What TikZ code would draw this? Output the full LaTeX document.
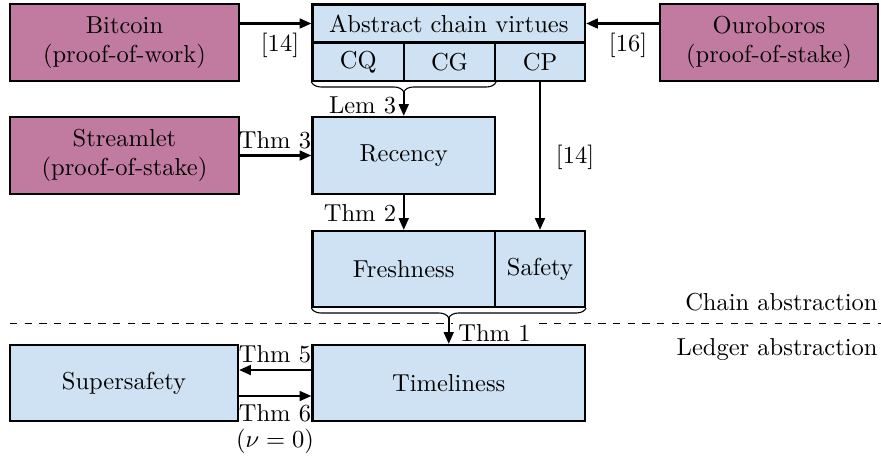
\documentclass[tikz,border=0pt]{standalone}
\usetikzlibrary{arrows.meta,decorations.pathreplacing}
\definecolor{virtueblue}{HTML}{CFE2F3}
\definecolor{protopink}{HTML}{C27BA0}
\tikzset{
  box/.style={draw, line width=0.9pt, fill=virtueblue, align=center, inner sep=0pt},
  proto/.style={box, fill=protopink, minimum width=93.4pt, minimum height=31.4pt},
  implies/.style={-{Triangle[length=4.8pt,width=4pt]}, line width=0.9pt},
  brc/.style={decorate, decoration={brace, mirror, amplitude=4pt}, line width=0.45pt},
}
\begin{document}
\begin{tikzpicture}[x=0.408pt, y=-0.408pt]
  \useasboundingbox (0,0) rectangle (881,458);
  % protocols
  \node[proto] (bitcoin) at (124.5,42.5) {Bitcoin\\(proof-of-work)};
  \node[proto, minimum width=88.9pt] (ouroboros) at (769,42.5) {Ouroboros\\(proof-of-stake)};
  \node[proto] (streamlet) at (124.5,155.5) {Streamlet\\(proof-of-stake)};
  % chain abstraction
  \node[box, minimum width=111.2pt, minimum height=15.5pt] (virtues) at (448.75,23.5) {Abstract chain virtues};
  \node[box, minimum width=37.3pt, minimum height=15.7pt] (cq) at (358.25,61.75) {CQ};
  \node[box, minimum width=37.1pt, minimum height=15.7pt] (cg) at (449.5,61.75) {CG};
  \node[box, minimum width=36.7pt, minimum height=15.7pt] (cp) at (540,61.75) {CP};
  \node[box, minimum width=74.5pt, minimum height=31.4pt] (recency) at (403.75,155.5) {Recency};
  \node[box, minimum width=74.5pt, minimum height=31pt] (freshness) at (403.75,269) {Freshness};
  \node[box, minimum width=36.7pt, minimum height=31pt] (safety) at (540,269) {Safety};
  % layer split
  \coordinate (splitL) at (10,323.5);
  \coordinate (splitR) at (881,323.5);
  \draw[dashed, line width=0.45pt] (splitL) -- (splitR);
  \node[anchor=east, inner sep=0pt] (chainlbl) at (878,302) {Chain abstraction};
  \node[anchor=east, inner sep=0pt] (ledgerlbl) at (878,350) {Ledger abstraction};
  \node[anchor=west, fill=white, inner sep=2pt] (thm1) at (453,333) {Thm 1};
  % ledger abstraction
  \node[box, minimum width=111.2pt, minimum height=31pt] (timeliness) at (448.75,383) {Timeliness};
  \node[box, minimum width=93pt, minimum height=31pt] (supersafety) at (124,383) {Supersafety};
  % braces
  \draw[brc] (cq.south west) -- (cg.south east);
  \coordinate (lemtip) at (403.75,91);
  \draw[brc] (freshness.south west) -- (safety.south east);
  \coordinate (thmtip) at (448.75,317);
  % implications
  \draw[implies] (bitcoin.east |- virtues.west) -- (virtues.west);
  \node (cite14a) at (280,45) {[14]};
  \draw[implies] (ouroboros.west |- virtues.east) -- (virtues.east);
  \node (cite16) at (628,45) {[16]};
  \draw[implies] (streamlet.east) -- (recency.west);
  \node (thm3) at (275,140) {Thm 3};
  \draw[implies] (lemtip) -- (recency.north);
  \node[anchor=east, inner sep=1pt] (lem3) at (399,105) {Lem 3};
  \draw[implies] (recency.south) -- (freshness.north);
  \node[anchor=east, inner sep=1pt] (thm2) at (399,213) {Thm 2};
  \draw[implies] (cp.south) -- (safety.north);
  \node (cite14b) at (575,157) {[14]};
  \draw[implies] (thmtip) -- (timeliness.north);
  \draw[implies] ([yshift=5.3pt]timeliness.west) -- ([yshift=5.3pt]timeliness.west -| supersafety.east);
  \node (thm5) at (275,354) {Thm 5};
  \draw[implies] ([yshift=-5.3pt]supersafety.east) -- ([yshift=-5.3pt]supersafety.east -| timeliness.west);
  \node (thm6) at (275,413) {Thm 6};
  \node (nu) at (275,441) {($\nu=0$)};
\end{tikzpicture}
\end{document}
